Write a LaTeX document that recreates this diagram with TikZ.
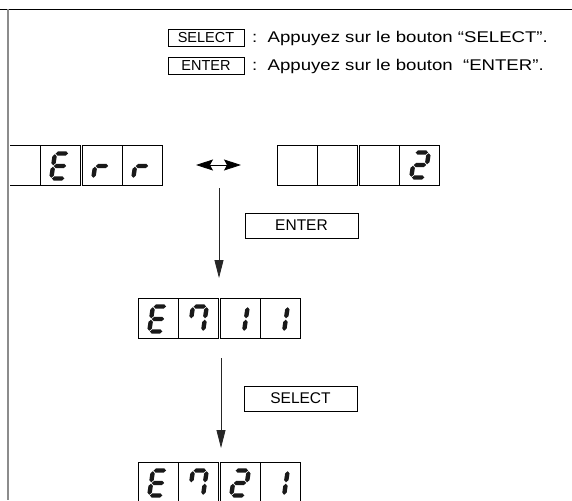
\documentclass[tikz,border=0pt]{standalone}
\usepackage{fontspec}
\setmainfont{Liberation Sans}
\newfontfamily\widesans[FakeStretch=1.2]{Liberation Sans}
\usetikzlibrary{arrows.meta}
\newcommand{\hsg}[1]{\fill (-6.2,#1) -- (-4,#1-2.2) -- (4,#1-2.2) -- (6.2,#1) -- (4,#1+2.2) -- (-4,#1+2.2) -- cycle;}
\newcommand{\vsg}[3]{\fill (#1,#2) -- (#1+2.2,#2+2.2) -- (#1+2.2,#3-2.2) -- (#1,#3) -- (#1-2.2,#3-2.2) -- (#1-2.2,#2+2.2) -- cycle;}
\newcommand{\sgA}{\hsg{-12.5}}
\newcommand{\sgG}{\hsg{0}}
\newcommand{\sgD}{\hsg{12.5}}
\newcommand{\sgF}{\vsg{-6.9}{-11.8}{-0.7}}
\newcommand{\sgE}{\vsg{-6.9}{0.7}{11.8}}
\newcommand{\sgB}{\vsg{6.9}{-11.8}{-0.7}}
\newcommand{\sgC}{\vsg{6.9}{0.7}{11.8}}
\newcommand{\glyphE}{\sgA\sgF\sgG\sgE\sgD}
\newcommand{\glyphR}{\sgG\sgE}
\newcommand{\glyphTwo}{\sgA\sgB\sgG\sgE\sgD}
\newcommand{\glyphSeven}{\sgA\sgF\sgB\sgC}
\newcommand{\glyphOne}{\sgB\sgC}
\newcommand{\lcd}[3]{\begin{scope}[shift={(#1,#2)}, xslant=0.15, lcdglyph]#3\end{scope}}
\tikzset{
  cellline/.style={draw=black, line width=0.7pt},
  lcdglyph/.style={fill=black!90},
  btn/.style={draw=black, line width=0.7pt, inner sep=0pt, font=\fontsize{15.5}{18}\selectfont},
  legbtn/.style={btn, minimum width=76pt, minimum height=17pt, font=\fontsize{14.5}{16}\selectfont},
  legendtxt/.style={anchor=west, inner sep=0pt, font=\widesans\fontsize{15.5}{18}\selectfont},
  flow/.style={draw=black!85, line width=0.8pt, -{Triangle[length=18pt,width=9pt]}},
  swap/.style={draw=black, line width=0.8pt, {Stealth[length=17pt,width=11pt,inset=3pt]}-{Stealth[length=17pt,width=11pt,inset=3pt]}}
}
\begin{document}
\begin{tikzpicture}[x=1pt,y=-1pt]
\useasboundingbox (0,0) rectangle (572,500);
% frame
\draw[line width=0.8pt] (0,9) -- (572,9);
\draw[draw=black!45, line width=2.4pt] (8,9) -- (8,500);
% legend
\node[legbtn] (lsel) at (206,38) {SELECT};
\node[legendtxt] (lseltxt) at (252,38) {:\ \ Appuyez sur le bouton “SELECT”.};
\node[legbtn] (lent) at (206,66) {ENTER};
\node[legendtxt] (lenttxt) at (252,66) {:\ \ Appuyez sur le bouton\ \ “ENTER”.};
% Err display
\draw[cellline] (10,145) -- (80,145) -- (80,185) -- (10,185);
\draw[cellline] (40,145) -- (40,185);
\draw[cellline] (82,145) rectangle (162,185);
\draw[cellline] (122,145) -- (122,185);
\lcd{60}{166}{\glyphE}
\lcd{102}{166}{\glyphR}
\lcd{142}{166}{\glyphR}
% right display
\draw[cellline] (277,145) rectangle (357,185);
\draw[cellline] (317,145) -- (317,185);
\draw[cellline] (359,145) rectangle (439,185);
\draw[cellline] (399,145) -- (399,185);
\lcd{420}{165}{\glyphTwo}
% swap arrow
\coordinate (swl) at (196,165);
\coordinate (swr) at (241,165);
\draw[swap] (swl) -- (swr);
% arrow 1
\coordinate (a1s) at (219,188);
\coordinate (a1e) at (219,278);
\draw[flow] (a1s) -- (a1e);
\node[btn, minimum width=113pt, minimum height=25pt] (benter) at (301.5,225.5) {ENTER};
% E711 display
\draw[cellline] (138,298) rectangle (218,338);
\draw[cellline] (178,298) -- (178,338);
\draw[cellline] (220,298) rectangle (300,338);
\draw[cellline] (260,298) -- (260,338);
\lcd{158}{319}{\glyphE}
\lcd{198}{319}{\glyphSeven}
\lcd{239}{319}{\glyphOne}
\lcd{279}{319}{\glyphOne}
% arrow 2
\coordinate (a2s) at (221,358);
\coordinate (a2e) at (221,448);
\draw[flow] (a2s) -- (a2e);
\node[btn, minimum width=113pt, minimum height=25pt] (bselect) at (300.5,398.5) {SELECT};
% E721 display
\draw[cellline] (138,462) rectangle (218,502);
\draw[cellline] (178,462) -- (178,502);
\draw[cellline] (220,462) rectangle (300,502);
\draw[cellline] (260,462) -- (260,502);
\lcd{158}{483}{\glyphE}
\lcd{198}{483}{\glyphSeven}
\lcd{240}{483}{\glyphTwo}
\lcd{279}{483}{\glyphOne}
\end{tikzpicture}
\end{document}
